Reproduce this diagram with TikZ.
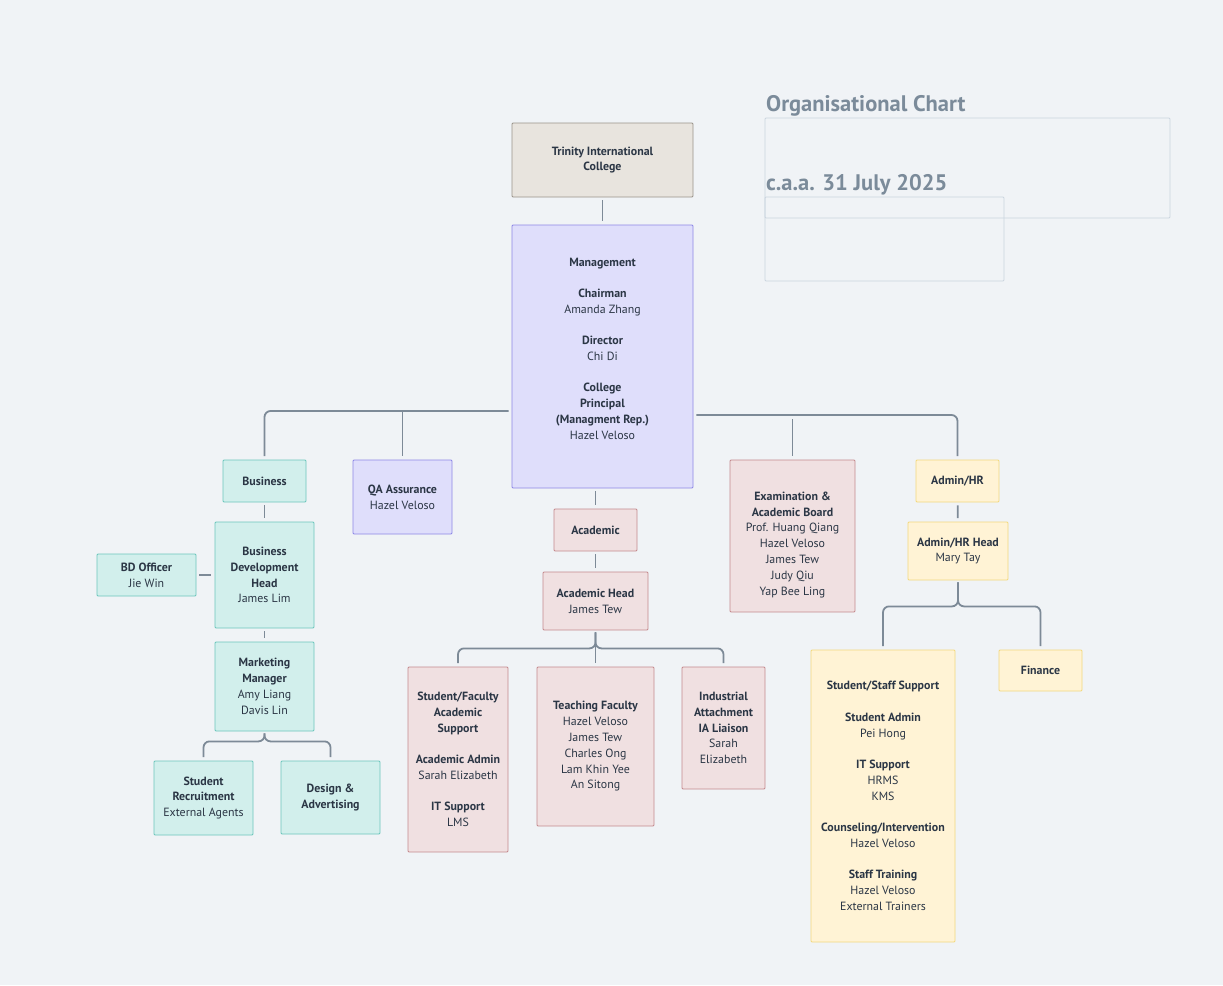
\documentclass[tikz,border=0pt]{standalone}
\usepackage{fontspec}
\setmainfont{PT Sans}
\usepackage{xcolor}
\definecolor{bg}{HTML}{F0F3F6}
\definecolor{ink}{HTML}{2B3645}
\definecolor{wire}{HTML}{7D8A97}
\definecolor{titlegrey}{HTML}{7B8B9A}
\definecolor{framegrey}{HTML}{CBD5DF}
\definecolor{tealfill}{HTML}{D2EFEC}
\definecolor{tealline}{HTML}{6CC6BC}
\definecolor{purplefill}{HTML}{DFDEFB}
\definecolor{purpleline}{HTML}{8D87E6}
\definecolor{pinkfill}{HTML}{F0E0E1}
\definecolor{pinkline}{HTML}{C48A8E}
\definecolor{yellowfill}{HTML}{FFF3D5}
\definecolor{yellowline}{HTML}{F3D97E}
\definecolor{beigefill}{HTML}{E8E4DE}
\definecolor{beigeline}{HTML}{9A938A}
\usetikzlibrary{arrows,shapes}

\begin{document}
\begin{tikzpicture}[x=1pt, y=-1pt]
		\fill [bg] (0,0) rectangle (1223,985);
		\useasboundingbox (0,0) rectangle (1223,985);

		% title
		\node [anchor=base west, inner sep=0, text=titlegrey, font=\bfseries\fontsize{22.5}{26}\selectfont] (title) at (766,111) {Organisational Chart};
		\node [anchor=base west, inner sep=0, text=titlegrey, font=\bfseries\fontsize{22.5}{26}\selectfont] (date) at (766,190) {c.a.a. 31 July 2025};
		\draw [framegrey, line width=.8pt, rounded corners=1pt] (765,118) rectangle (1170,218);
		\draw [framegrey, line width=.8pt, rounded corners=1pt] (765,197) rectangle (1004,281);

		\tikzstyle{every node} = [rectangle, draw, align=center, inner sep=2pt, rounded corners=1pt, line width=.8pt, text=ink, font=\fontsize{11.9}{15.8}\selectfont]
		\tikzstyle{beige} = [fill=beigefill, draw=beigeline]
		\tikzstyle{purple} = [fill=purplefill, draw=purpleline]
		\tikzstyle{teal} = [fill=tealfill, draw=tealline]
		\tikzstyle{pink} = [fill=pinkfill, draw=pinkline]
		\tikzstyle{yellow} = [fill=yellowfill, draw=yellowline]

		\node [beige, minimum width=181, minimum height=74] (trin) at (602.5,160) {\textbf{Trinity International}\\\textbf{College}};
		\node [purple, minimum width=181, minimum height=263] (mgmt) at (602.5,356.5) {\textbf{Management}\\[15.6pt]\textbf{Chairman}\\Amanda Zhang\\[15.6pt]\textbf{Director}\\Chi Di\\[15.6pt]\textbf{College}\\\textbf{Principal}\\\textbf{(Managment Rep.)}\\Hazel Veloso\\[0pt]};

		% business side
		\node [teal, minimum width=83, minimum height=42] (bus) at (264.5,481) {\textbf{Business}};
		\node [purple, minimum width=99, minimum height=74] (qa) at (402.5,497) {\textbf{QA Assurance}\\Hazel Veloso};
		\node [teal, minimum width=99, minimum height=106] (bdh) at (264.5,575) {\textbf{Business}\\\textbf{Development}\\\textbf{Head}\\James Lim};
		\node [teal, minimum width=99, minimum height=42] (bdo) at (146.5,575) {\textbf{BD Officer}\\Jie Win};
		\node [teal, minimum width=99, minimum height=89] (mkt) at (264.5,686.5) {\textbf{Marketing}\\\textbf{Manager}\\Amy Liang\\Davis Lin};
		\node [teal, minimum width=99, minimum height=74] (rec) at (203.5,798) {\textbf{Student}\\\textbf{Recruitment}\\External Agents};
		\node [teal, minimum width=99, minimum height=73] (des) at (330.5,797.5) {\textbf{Design \&}\\\textbf{Advertising}};

		% academic side
		\node [pink, minimum width=83, minimum height=42] (acad) at (595.5,530) {\textbf{Academic}};
		\node [pink, minimum width=105, minimum height=58] (ahead) at (595.5,601) {\textbf{Academic Head}\\James Tew};
		\node [pink, minimum width=100, minimum height=185] (sfas) at (458,759.5) {\textbf{Student/Faculty}\\\textbf{Academic}\\\textbf{Support}\\[15.6pt]\textbf{Academic Admin}\\Sarah Elizabeth\\[15.6pt]\textbf{IT Support}\\LMS};
		\node [pink, minimum width=117, minimum height=159] (tf) at (595.5,746.5) {\textbf{Teaching Faculty}\\Hazel Veloso\\James Tew\\Charles Ong\\Lam Khin Yee\\An Sitong};
		\node [pink, minimum width=83, minimum height=122] (ia) at (723.5,728) {\textbf{Industrial}\\\textbf{Attachment}\\\textbf{IA Liaison}\\Sarah\\Elizabeth};
		\node [pink, minimum width=125, minimum height=152] (exam) at (792.5,536) {\\[10pt]\textbf{Examination \&}\\\textbf{Academic Board}\\Prof. Huang Qiang\\Hazel Veloso\\James Tew\\Judy Qiu\\Yap Bee Ling};

		% admin side
		\node [yellow, minimum width=83, minimum height=42] (adm) at (957.5,481) {\textbf{Admin/HR}};
		\node [yellow, minimum width=100, minimum height=58] (ahr) at (958,551) {\textbf{Admin/HR Head}\\Mary Tay};
		\node [yellow, minimum width=144, minimum height=292] (sss) at (883,796) {\textbf{Student/Staff Support}\\[15.6pt]\textbf{Student Admin}\\Pei Hong\\[15.6pt]\textbf{IT Support}\\HRMS\\KMS\\[15.6pt]\textbf{Counseling/Intervention}\\Hazel Veloso\\[15.6pt]\textbf{Staff Training}\\Hazel Veloso\\External Trainers};
		\node [yellow, minimum width=83, minimum height=41] (fin) at (1040.5,670.5) {\textbf{Finance}};

		\coordinate (mleft) at ([yshift=-54.5pt]mgmt.west);
		\coordinate (mright) at ([yshift=-58.5pt]mgmt.east);

		\tikzstyle{every path} = [wire, line width=1.8pt, rounded corners=6pt, shorten <=3pt, shorten >=3.5pt]
		\draw [-] (trin) -- (mgmt);
		\draw [-] (mleft) -| (bus.north);
		\draw [-, shorten <=0pt] (mleft -| qa.north) -- (qa.north);
		\draw [-] (mright) -| (adm.north);
		\draw [-, shorten <=4pt] (mright -| exam.north) -- (exam.north);
		\draw [-] (acad.north |- mgmt.south) -- (acad.north);
		\draw [-] (acad) -- (ahead);
		\draw [-, shorten <=2pt] (ahead.south) -- ++(0,18) -| (sfas.north);
		\draw [-, shorten <=2pt] (ahead.south) -- ++(0,18) -| (ia.north);
		\draw [-, shorten <=2pt] (ahead.south) -- (tf.north);
		\draw [-] (bus) -- (bdh);
		\draw [-] (bdo) -- (bdh);
		\draw [-] (bdh) -- (mkt);
		\draw [-, shorten <=2pt] (mkt.south) -- ++(0,10) -| (rec.north);
		\draw [-, shorten <=2pt] (mkt.south) -- ++(0,10) -| (des.north);
		\draw [-] (adm) -- (ahr);
		\draw [-, shorten <=2pt] (ahr.south) -- ++(0,26) -| (sss.north);
		\draw [-, shorten <=2pt] (ahr.south) -- ++(0,26) -| (fin.north);
\end{tikzpicture}
\end{document}
